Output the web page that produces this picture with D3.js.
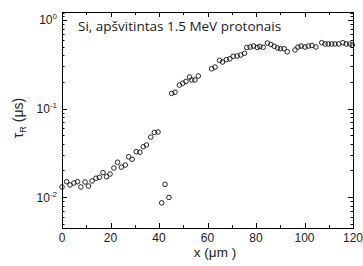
<!DOCTYPE html>
<html>
<head>
<meta charset="utf-8">
<script src="https://cdn.jsdelivr.net/npm/d3@7"></script>
<style>
  body { margin: 0; background: #fff; }
  svg { display: block; }
</style>
</head>
<body>
<div id="chart"></div>
<script>
// position along the sample (um) and recombination lifetime (us)
var xPos = [0.0, 1.9, 3.3, 4.9, 6.4, 7.8, 9.5, 10.9, 12.4, 14.0, 15.4, 16.9, 18.4, 19.8,
    21.4, 22.9, 24.5, 26.1, 27.5, 28.9, 30.6, 32.1, 33.5, 34.8, 36.6, 38.1, 39.6,
    41.1, 42.5, 44.1,
    45.2, 46.6, 48.4, 49.8, 51.1, 52.6, 53.5, 54.8, 56.2,
    61.7, 63.1, 65.0, 66.2, 67.8, 69.2, 70.6, 72.2, 73.7, 75.3, 76.2, 77.6, 79.0,
    80.5, 81.6, 83.0, 84.7, 86.1, 87.5, 88.9, 90.1, 91.6, 92.9,
    96.1, 97.3, 98.6, 100.2, 101.6, 103.1, 104.7, 107.1, 108.5, 109.8, 111.2,
    112.6, 114.1, 115.8, 117.2, 118.7, 119.7];
var tauR = [0.0130, 0.0149, 0.0137, 0.0144, 0.0149, 0.0130, 0.0148, 0.0133, 0.0152, 0.0163,
    0.0167, 0.0189, 0.0170, 0.0182, 0.0213, 0.0247, 0.0218, 0.0230, 0.0285, 0.0267,
    0.0325, 0.0321, 0.0370, 0.0387, 0.0476, 0.0536, 0.0543,
    0.0086, 0.0139, 0.0099,
    0.148, 0.153, 0.184, 0.193, 0.202, 0.227, 0.210, 0.210, 0.233,
    0.281, 0.294, 0.350, 0.335, 0.357, 0.364, 0.389, 0.392, 0.402, 0.421, 0.489,
    0.495, 0.508, 0.489, 0.502, 0.492, 0.550, 0.529, 0.505, 0.483, 0.474, 0.473, 0.438,
    0.458, 0.495, 0.508, 0.495, 0.508, 0.515, 0.495, 0.554, 0.536, 0.536, 0.536,
    0.536, 0.536, 0.554, 0.536, 0.536, 0.522];

var xTicks = [0, 20, 40, 60, 80, 100, 120];
var xMinor = [10, 30, 50, 70, 90, 110];
var yTicks = [0.01, 0.1, 1];
var yExp = ["-2", "-1", "0"];
var titleText = "Si, apšvitintas 1.5 MeV protonais";

var W = 363, H = 266;
var plotL = 62, plotR = 353, plotT = 12, plotB = 228;

var svg = d3.select("#chart").append("svg")
    .attr("width", W)
    .attr("height", H);

var x = d3.scaleLinear().domain([0, 120]).range([plotL, plotR]);
var y = d3.scaleLog().domain([0.00447, 1.231]).range([plotB, plotT]);

// minor log ticks (2..9 of each decade)
var yMinor = [];
[0.001, 0.01, 0.1, 1].forEach(function (d) {
    for (var k = 2; k <= 9; k++) {
        var v = d * k;
        if (v > y.domain()[0] && v < y.domain()[1]) yMinor.push(v);
    }
});
yMinor.push(1.1, 1.2);

var axes = svg.append("g").attr("stroke", "#000").attr("stroke-width", 1);

// frame
axes.append("rect")
    .attr("x", plotL + 0.5)
    .attr("y", plotT + 0.5)
    .attr("width", plotR - plotL)
    .attr("height", plotB - plotT)
    .attr("fill", "none");

// x ticks, pointing inward on bottom and top
xTicks.concat(xMinor).forEach(function (d) {
    var len = xTicks.indexOf(d) >= 0 ? 5 : 3;
    var px = Math.round(x(d)) + 0.5;
    axes.append("line").attr("x1", px).attr("x2", px).attr("y1", plotB).attr("y2", plotB - len);
    axes.append("line").attr("x1", px).attr("x2", px).attr("y1", plotT).attr("y2", plotT + len);
});

// y ticks, pointing inward on left and right
yTicks.concat(yMinor).forEach(function (d) {
    var len = yTicks.indexOf(d) >= 0 ? 5 : 2.5;
    var py = Math.round(y(d)) + 0.5;
    axes.append("line").attr("x1", plotL).attr("x2", plotL + len).attr("y1", py).attr("y2", py);
    axes.append("line").attr("x1", plotR).attr("x2", plotR - len).attr("y1", py).attr("y2", py);
});

// tick labels
svg.append("g").selectAll("text")
    .data(xTicks)
    .enter().append("text")
    .attr("x", d => x(d))
    .attr("y", 242)
    .attr("text-anchor", "middle")
    .attr("font-family", "Liberation Sans, Arial, sans-serif")
    .attr("font-size", 12)
    .attr("fill", "#222")
    .text(d => d);

var yl = svg.append("g").selectAll("text")
    .data(yTicks)
    .enter().append("text")
    .attr("x", 57)
    .attr("y", d => y(d) + 4.5)
    .attr("text-anchor", "end")
    .attr("font-family", "Liberation Sans, Arial, sans-serif")
    .attr("font-size", 12)
    .attr("fill", "#222");
yl.append("tspan").text("10");
yl.append("tspan")
    .attr("font-size", 8)
    .attr("dy", -5)
    .text((d, i) => yExp[i]);

// points
svg.append("g").selectAll("circle")
    .data(xPos)
    .enter().append("circle")
    .attr("cx", d => x(d))
    .attr("cy", (d, i) => y(tauR[i]))
    .attr("r", 2.3)
    .attr("fill", "none")
    .attr("stroke", "#111")
    .attr("stroke-width", 0.9);

// title inside the plot
svg.append("text")
    .attr("x", 78)
    .attr("y", 31)
    .attr("font-family", "Open Sans, sans-serif")
    .attr("font-size", 13.5)
    .attr("fill", "#1a1a1a")
    .text(titleText);

// axis titles
var xl = svg.append("text")
    .attr("x", 215)
    .attr("y", 257)
    .attr("text-anchor", "middle")
    .attr("font-family", "Liberation Sans, Arial, sans-serif")
    .attr("font-size", 13.5)
    .attr("fill", "#222");
xl.append("tspan").text("x  (");
xl.append("tspan").text("\u03bcm");
xl.append("tspan").text(" )");

var ylab = svg.append("text")
    .attr("transform", "translate(23,118) rotate(-90)")
    .attr("text-anchor", "middle")
    .attr("font-family", "Liberation Sans, Arial, sans-serif")
    .attr("font-size", 14)
    .attr("fill", "#222");
ylab.append("tspan").text("\u03c4");
ylab.append("tspan").attr("font-size", 9).attr("dy", 3).text("R");
ylab.append("tspan").attr("dy", -3).text(" (\u03bcs)");
</script>
</body>
</html>
